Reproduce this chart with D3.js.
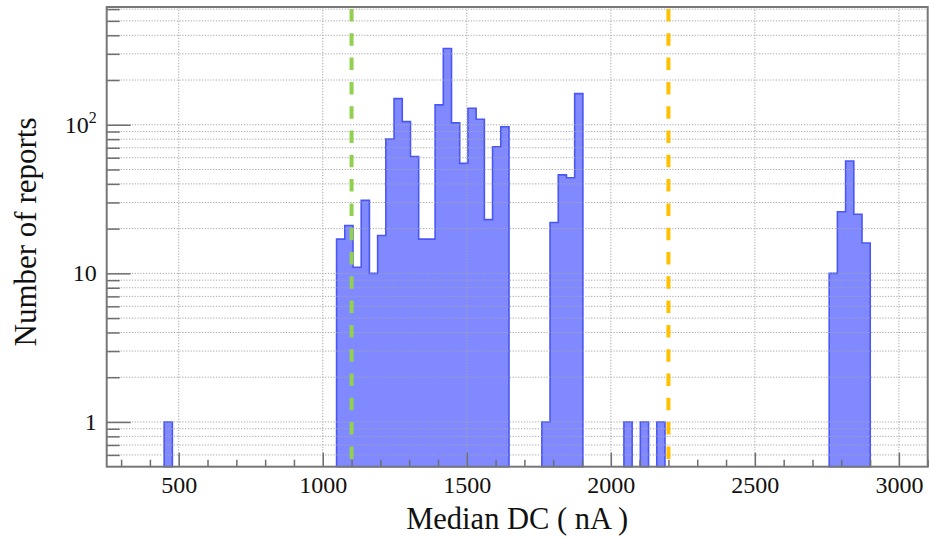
<!DOCTYPE html>
<html>
<head>
<meta charset="utf-8">
<script src="https://cdn.jsdelivr.net/npm/d3@7"></script>
<style>
  body { margin: 0; background: #fff; }
  svg text { font-family: "Liberation Serif", "Times New Roman", serif !important; }
</style>
</head>
<body>
<div id="chart"></div>
<script>
// histogram bins (lower edge, nA) and counts
var binWidth = 28.5;
var binLow = [449.5, 1048, 1076.5, 1105, 1133.5, 1162, 1190.5, 1219, 1247.5, 1276,
  1304.5, 1333, 1361.5, 1390, 1418.5, 1447, 1475.5, 1504, 1532.5, 1561, 1589.5, 1618,
  1760.5, 1789, 1817.5, 1846, 1874.5, 2045.5, 2102.5, 2159.5,
  2758, 2786.5, 2815, 2843.5, 2872];
var counts = [1, 17, 21, 11, 31, 10, 18, 80, 150, 105,
  61, 17, 17, 136, 326, 103, 55, 129, 109, 23, 71, 97,
  1, 22, 46, 44, 162, 1, 1, 1,
  10, 26, 57, 25, 16];

// reference lines
var refLines = [1100, 2200];
var refColors = ["#92d050", "#ffc000"];

// axes
var xDomain = [250, 3100];
var yDomain = [0.5, 620];
var xMajor = [500, 1000, 1500, 2000, 2500, 3000];
var xMinor = [300, 400, 600, 700, 800, 900, 1100, 1200, 1300, 1400, 1600, 1700, 1800, 1900,
  2100, 2200, 2300, 2400, 2600, 2700, 2800, 2900, 3100];
var yMajor = [1, 10, 100];
var yMajorLabels = [["1", ""], ["10", ""], ["10", "2"]];
var yMinor = [0.6, 0.7, 0.8, 0.9, 2, 3, 4, 5, 6, 7, 8, 9, 20, 30, 40, 50, 60, 70, 80, 90,
  200, 300, 400, 500, 600];

var width = 929, height = 540;
var margin = {top: 7, right: 1.3, bottom: 73.3, left: 106.7};
var w = width - margin.left - margin.right,
    h = height - margin.top - margin.bottom;

var x = d3.scaleLinear().domain(xDomain).range([0, w]);
var y = d3.scaleLog().domain(yDomain).range([h, 0]);

var svg = d3.select("#chart").append("svg")
    .attr("width", width)
    .attr("height", height)
  .append("g")
    .attr("transform", "translate(" + margin.left + "," + margin.top + ")");

// group contiguous bins into runs, draw each as one filled step outline
var runs = [];
binLow.forEach(function (lo, i) {
  var last = runs[runs.length - 1];
  if (last && Math.abs(last[last.length - 1].lo + binWidth - lo) < 1e-6) {
    last.push({lo: lo, v: counts[i]});
  } else {
    runs.push([{lo: lo, v: counts[i]}]);
  }
});

var line = d3.line().x(function (d) { return d[0]; }).y(function (d) { return d[1]; });

runs.forEach(function (run) {
  var pts = [[x(run[0].lo), h]];
  run.forEach(function (d) {
    pts.push([x(d.lo), y(d.v)]);
    pts.push([x(d.lo + binWidth), y(d.v)]);
  });
  pts.push([x(run[run.length - 1].lo + binWidth), h]);
  svg.append("path")
    .attr("d", line(pts) + "Z")
    .attr("fill", "#8089ff")
    .attr("stroke", "#4a57f2")
    .attr("stroke-width", 1.6)
    .attr("stroke-linejoin", "miter");
});

// grid
var grid = svg.append("g").attr("class", "grid")
  .attr("stroke", "#a5a5a5").attr("stroke-width", 1).attr("stroke-dasharray", "1.2,1.6");
grid.selectAll(".gx").data(xMajor).enter().append("line")
  .attr("x1", function (d) { return x(d); }).attr("x2", function (d) { return x(d); })
  .attr("y1", 0).attr("y2", h);
grid.selectAll(".gy").data(yMajor.concat(yMinor)).enter().append("line")
  .attr("x1", 0).attr("x2", w)
  .attr("y1", function (d) { return y(d); }).attr("y2", function (d) { return y(d); });

// dashed reference lines
svg.selectAll(".ref").data(refLines).enter().append("line")
  .attr("x1", function (d) { return x(d); }).attr("x2", function (d) { return x(d); })
  .attr("y1", 2).attr("y2", h)
  .attr("stroke", function (d, i) { return refColors[i]; })
  .attr("stroke-width", 4)
  .attr("stroke-dasharray", "12.5,11.8");

// x axis
svg.append("g").attr("transform", "translate(0," + h + ")")
  .call(d3.axisBottom(x).tickValues(xMajor).tickSize(-14).tickPadding(9.5)
    .tickFormat(d3.format("d")));
svg.append("g").attr("transform", "translate(0," + h + ")")
  .call(d3.axisBottom(x).tickValues(xMinor).tickSize(-7).tickFormat(""));

// y axis
svg.append("g")
  .call(d3.axisLeft(y).tickValues(yMajor).tickSize(-24).tickFormat(""));
svg.append("g")
  .call(d3.axisLeft(y).tickValues(yMinor).tickSize(-13).tickFormat(""));

svg.selectAll(".domain").remove();
svg.selectAll(".tick line").attr("stroke", "#6e6e6e").attr("stroke-width", 1.5);
svg.selectAll(".tick text").attr("font-size", 24).attr("fill", "#111");

var ylab = svg.selectAll(".ylab").data(yMajor).enter().append("text")
  .attr("x", -10)
  .attr("y", function (d) { return y(d) + 8; })
  .attr("text-anchor", "end")
  .attr("font-size", 24)
  .attr("fill", "#111");
ylab.append("tspan").text(function (d, i) { return yMajorLabels[i][0]; });
ylab.append("tspan").attr("dy", -10).attr("font-size", 16)
  .text(function (d, i) { return yMajorLabels[i][1]; });

// frame
svg.append("rect")
  .attr("x", 0).attr("y", 0).attr("width", w).attr("height", h)
  .attr("fill", "none").attr("stroke", "#777").attr("stroke-width", 2);

// titles
svg.append("text")
  .attr("x", w / 2).attr("y", h + 62)
  .attr("text-anchor", "middle")
  .attr("font-size", 30.5)
  .attr("fill", "#111")
  .text("Median DC ( nA )");

svg.append("text")
  .attr("transform", "translate(" + (36 - margin.left) + "," + (232 - margin.top) + ") rotate(-90)")
  .attr("text-anchor", "middle")
  .attr("font-size", 31)
  .attr("fill", "#111")
  .text("Number of reports");
</script>
</body>
</html>
